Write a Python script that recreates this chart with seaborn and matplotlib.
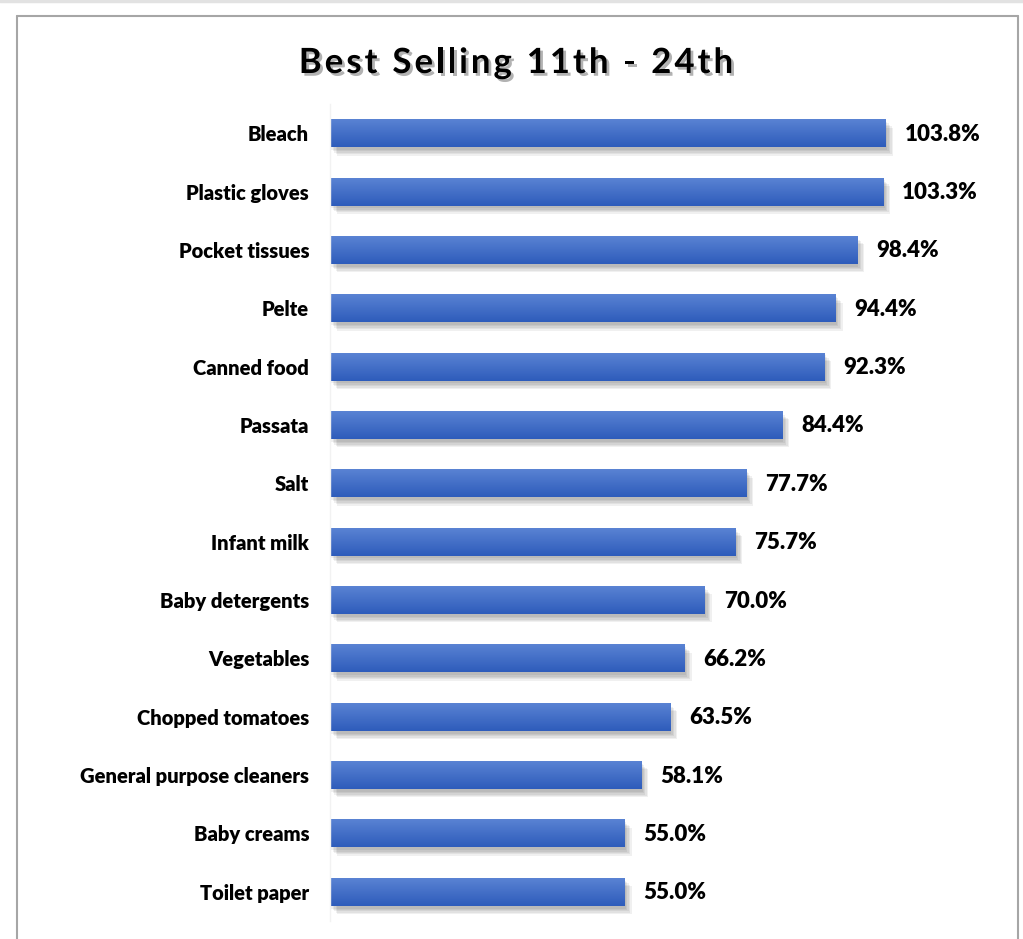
import numpy as np
import pandas as pd
import matplotlib
matplotlib.use("Agg")
import matplotlib.pyplot as plt
import matplotlib.patheffects as pe
from matplotlib.lines import Line2D
import seaborn as sns

products = ["Bleach", "Plastic gloves", "Pocket tissues", "Pelte", "Canned food",
            "Passata", "Salt", "Infant milk", "Baby detergents", "Vegetables",
            "Chopped tomatoes", "General purpose cleaners", "Baby creams", "Toilet paper"]
growth = [103.8, 103.3, 98.4, 94.4, 92.3, 84.4, 77.7, 75.7, 70.0, 66.2,
          63.5, 58.1, 55.0, 55.0]
title_text = "Best Selling 11th - 24th"

df = pd.DataFrame({"product": products, "growth": growth})

sns.set_theme(style="white")
plt.rcParams["font.family"] = ["Lato", "DejaVu Sans"]

W, H = 1023, 939
fig = plt.figure(figsize=(W / 100, H / 100), dpi=100)
fig.patch.set_facecolor("white")

ax = fig.add_axes([330 / W, 1 - 921 / H, (1000 - 330) / W, (921 - 104) / H])
sns.barplot(data=df, y="product", x="growth", orient="h", ax=ax,
            color="#3f6ac6", width=0.48, saturation=1)

xmax = (1000 - 330) / 5.356

# soft drop shadow plus vertical gradient fill for every bar
grad = np.linspace(0, 1, 64).reshape(-1, 1)
cmap = matplotlib.colors.LinearSegmentedColormap.from_list("bar", ["#5b84d4", "#2e5cbb"])
shadow_layers = []
for dx, dy in [(5, -6), (4, -5), (3, -4), (2, -3), (1, -2)]:
    shadow_layers.append(pe.SimplePatchShadow(offset=(dx, dy), shadow_rgbFace="#000000",
                                              alpha=0.06))
for p in ax.patches:
    p.set_linewidth(0)
    p.set_edgecolor("none")
    p.set_path_effects(shadow_layers + [pe.Normal()])
    x0, y0 = p.get_x(), p.get_y()
    w, h = p.get_width(), p.get_height()
    im = ax.imshow(grad, cmap=cmap, aspect="auto", interpolation="bicubic",
                   extent=(x0, x0 + w, y0 + h, y0), zorder=p.get_zorder() + 0.1)
    im.set_clip_path(p)

ax.set_xlim(0, xmax)
ax.set_ylim(len(products) - 0.5, -0.5)

for i, v in enumerate(growth):
    ax.annotate(f"{v:.1f}%", xy=(v, i), xytext=(19, -1), textcoords="offset pixels",
                ha="left", va="center", fontsize=16, fontweight="heavy", color="#000000")

ax.set_xlabel("")
ax.set_ylabel("")
ax.set_xticks([])
ax.tick_params(axis="y", length=0, pad=15)
for lab in ax.get_yticklabels():
    lab.set_fontweight("heavy")
    lab.set_fontsize(14.5)
    lab.set_color("#000000")
for s in ["top", "right", "bottom"]:
    ax.spines[s].set_visible(False)
ax.spines["left"].set_color("#f2f2f2")
ax.spines["left"].set_linewidth(1.0)

# chart frame and top strip
def px_line(xs, ys, color, lw):
    fig.add_artist(Line2D([x / W for x in xs], [1 - y / H for y in ys],
                          color=color, lw=lw, transform=fig.transFigure))

px_line([0, W], [1, 1], "#e2e2e2", 2.5)
px_line([17, 17], [16, H + 5], "#a6a6a6", 1.5)
px_line([17, 1018], [16, 16], "#a6a6a6", 1.5)
px_line([1018, 1018], [16, H + 5], "#a6a6a6", 1.5)

# letter-spaced title with a soft shadow
fig.canvas.draw()
renderer = fig.canvas.get_renderer()
tracking = 3.0
fsize = 25
shadow = [pe.withSimplePatchShadow(offset=(2, -2), shadow_rgbFace="#000000", alpha=0.3)]
widths = []
for ch in title_text:
    t = fig.text(0, 0, ch if ch != " " else "a", fontsize=fsize, fontweight="bold")
    widths.append(t.get_window_extent(renderer).width if ch != " " else
                  t.get_window_extent(renderer).width * 0.5)
    t.remove()
total = sum(widths) + tracking * (len(title_text) - 1)
x = 516 - total / 2
for ch, wch in zip(title_text, widths):
    if ch != " ":
        fig.text(x / W, 1 - 63 / H, ch, fontsize=fsize, fontweight="bold",
                 color="#000000", ha="left", va="center", path_effects=shadow)
    x += wch + tracking

fig.savefig("out.png", dpi=100, facecolor="white")
